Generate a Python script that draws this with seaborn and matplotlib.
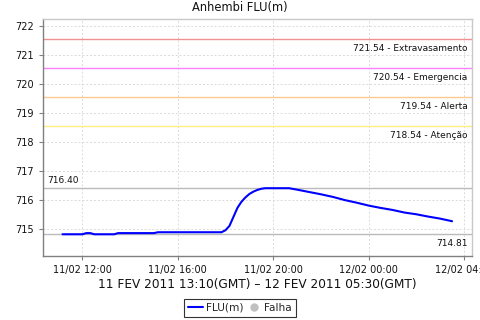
import matplotlib
matplotlib.use("Agg")
import matplotlib.pyplot as plt
import matplotlib.dates as mdates
from matplotlib.lines import Line2D
import seaborn as sns
import pandas as pd

times = ["2011-02-11 11:10", "2011-02-11 12:00", "2011-02-11 12:10", "2011-02-11 12:20",
         "2011-02-11 12:30", "2011-02-11 13:20", "2011-02-11 13:30", "2011-02-11 15:00",
         "2011-02-11 15:10", "2011-02-11 17:50", "2011-02-11 18:00", "2011-02-11 18:10",
         "2011-02-11 18:20", "2011-02-11 18:30", "2011-02-11 18:40", "2011-02-11 18:50",
         "2011-02-11 19:00", "2011-02-11 19:10", "2011-02-11 19:20", "2011-02-11 19:30",
         "2011-02-11 19:40", "2011-02-11 20:40", "2011-02-11 21:00", "2011-02-11 21:30",
         "2011-02-11 22:00", "2011-02-11 22:30", "2011-02-11 23:00", "2011-02-11 23:30",
         "2011-02-12 00:00", "2011-02-12 00:30", "2011-02-12 01:00", "2011-02-12 01:30",
         "2011-02-12 02:00", "2011-02-12 02:30", "2011-02-12 03:00", "2011-02-12 03:30"]
flu = [714.81, 714.81, 714.85, 714.85,
       714.81, 714.81, 714.85, 714.85,
       714.88, 714.88, 714.95, 715.10,
       715.41, 715.72, 715.93, 716.08,
       716.20, 716.28, 716.34, 716.38,
       716.40, 716.40, 716.35, 716.27,
       716.19, 716.10, 715.99, 715.90,
       715.80, 715.72, 715.65, 715.56,
       715.50, 715.42, 715.35, 715.26]

levels = [721.54, 720.54, 719.54, 718.54]
level_names = ["Extravasamento", "Emergencia", "Alerta", "Atenção"]
level_colors = ["#F09090", "#FF80FF", "#FFC890", "#FFEE80"]
max_val = 716.40
min_val = 714.81

df = pd.DataFrame({"t": pd.to_datetime(times), "FLU(m)": flu})

sns.set_style("white")
plt.rcParams["font.family"] = ["DejaVu Sans"]

fig = plt.figure(figsize=(4.8, 3.2), dpi=100)
ax = fig.add_axes([43/480, 1-256/320, (472-43)/480, (256-19)/320])

ax.grid(True, color="#DADADA", linestyle=(0, (2, 2)), linewidth=0.7)
ax.set_axisbelow(True)

for lv, nm, c in zip(levels, level_names, level_colors):
    ax.axhline(lv, color=c, linewidth=1.0)
    ax.text(0.99, lv - 0.17, f"{lv:.2f} - {nm}", transform=ax.get_yaxis_transform(),
            ha="right", va="top", fontsize=6.5, color="#111111")

ax.axhline(max_val, color="#BBBBBB", linewidth=1.0)
ax.text(0.01, max_val + 0.12, f"{max_val:.2f}", transform=ax.get_yaxis_transform(),
        ha="left", va="bottom", fontsize=6.5, color="#111111")
ax.axhline(min_val, color="#BBBBBB", linewidth=1.0)
ax.text(0.99, min_val - 0.17, f"{min_val:.2f}", transform=ax.get_yaxis_transform(),
        ha="right", va="top", fontsize=6.5, color="#111111")

sns.lineplot(data=df, x="t", y="FLU(m)", ax=ax, color="#0000FF", linewidth=1.5, legend=False)

ax.set_xlim(pd.Timestamp("2011-02-11 10:21"), pd.Timestamp("2011-02-12 04:20"))
ax.set_ylim(714.06, 722.24)
ax.set_yticks([715, 716, 717, 718, 719, 720, 721, 722])
ax.xaxis.set_major_locator(mdates.HourLocator(byhour=[0, 4, 8, 12, 16, 20]))
ax.xaxis.set_major_formatter(mdates.DateFormatter("%d/%m %H:%M"))
ax.tick_params(axis="both", labelsize=7, length=3, width=0.8, colors="#808080",
               labelcolor="#111111", direction="out", left=True, bottom=True)

for s in ["left", "bottom"]:
    ax.spines[s].set_color("#808080")
    ax.spines[s].set_linewidth(1.0)
for s in ["top", "right"]:
    ax.spines[s].set_color("#C8C8C8")
    ax.spines[s].set_linewidth(1.0)

ax.set_ylabel("")
ax.set_xlabel("11 FEV 2011 13:10(GMT) – 12 FEV 2011 05:30(GMT)", fontsize=8.7, labelpad=2,
              color="#111111")
fig.text(240/480, 1-8/320, "Anhembi FLU(m)", fontsize=8.3, ha="center", va="center",
         color="#111111")

handles = [Line2D([0], [0], color="#0000FF", linewidth=1.5, label="FLU(m)"),
           Line2D([0], [0], color="#C0C0C0", marker="o", linestyle="none", markersize=5, label="Falha")]
leg = fig.legend(handles=handles, loc="center", bbox_to_anchor=(240/480, 1-308/320), ncol=2,
                 fontsize=7.6, frameon=True, fancybox=False, edgecolor="black",
                 handlelength=1.4, handletextpad=0.3, columnspacing=0.3,
                 borderpad=0.35, borderaxespad=0)
leg.get_frame().set_linewidth(0.8)

fig.savefig("out.png", dpi=100)
